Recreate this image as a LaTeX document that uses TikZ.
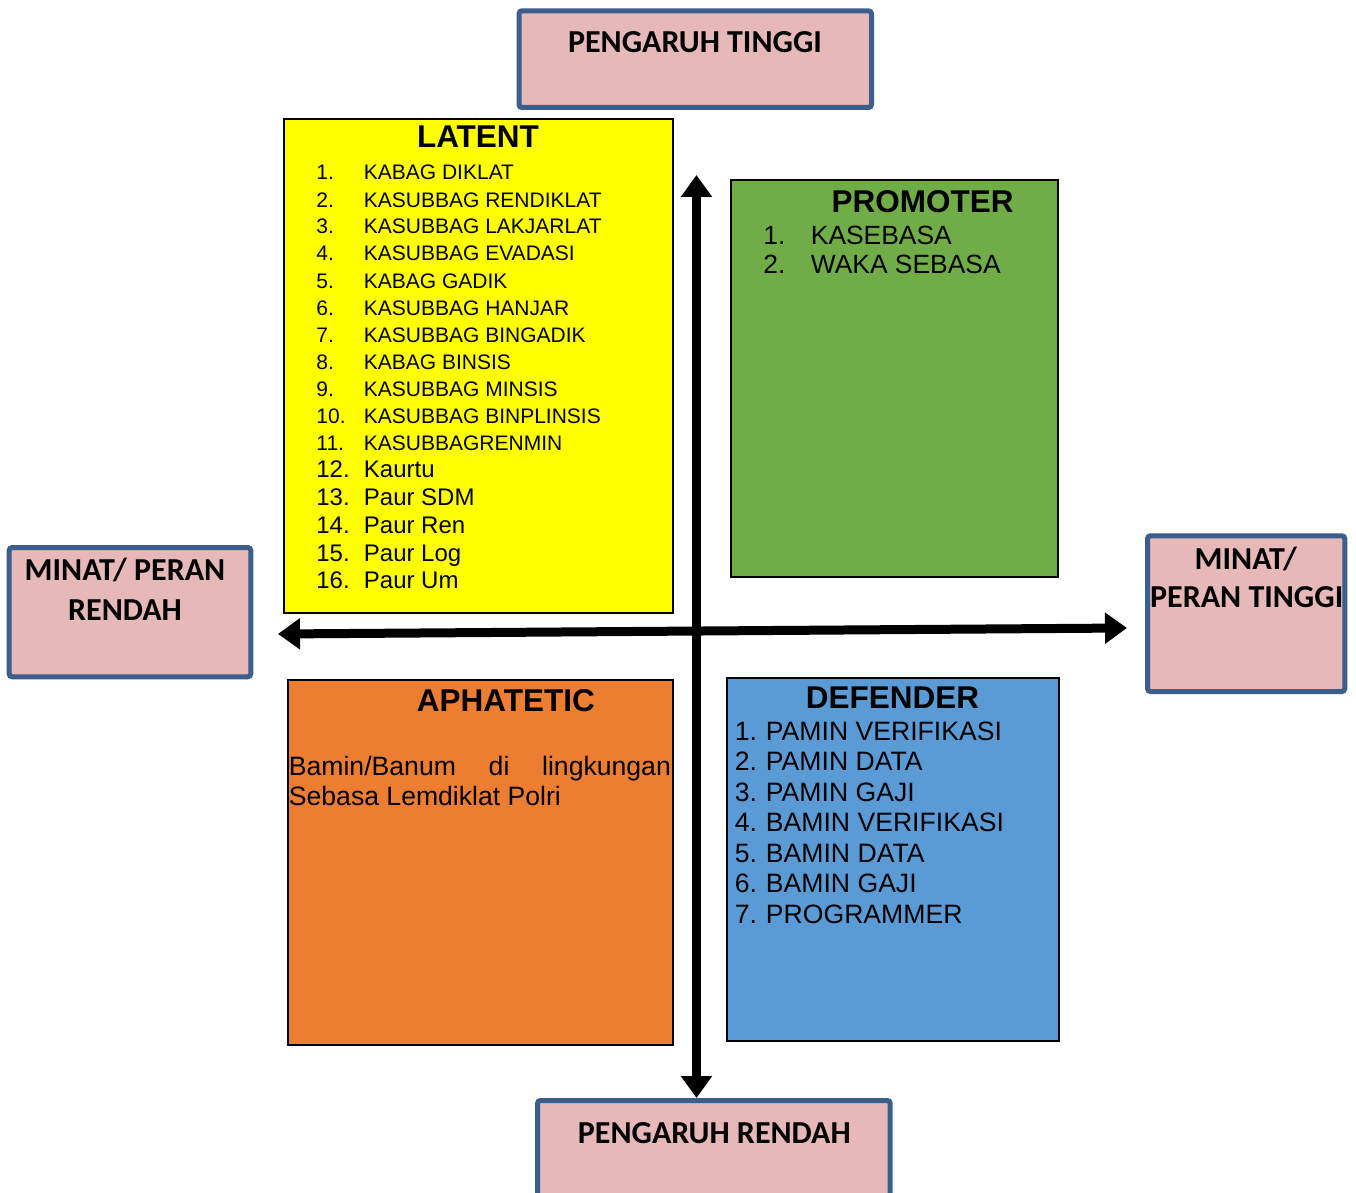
\documentclass[tikz,border=0pt]{standalone}
\usepackage{fontspec}
\setmainfont{Liberation Sans}
\newfontfamily\calib{Carlito}
\usetikzlibrary{arrows.meta}

\definecolor{pinkfill}{HTML}{E6B9B8}
\definecolor{pinkline}{HTML}{3B5E8C}
\definecolor{latentfill}{HTML}{FFFF00}
\definecolor{promfill}{HTML}{70AD47}
\definecolor{aphfill}{HTML}{ED7D31}
\definecolor{deffill}{HTML}{5B9BD5}

\newcommand{\fsz}[1]{\fontsize{#1}{#1}\selectfont}

\tikzset{
  axisbox/.style={draw=pinkline, fill=pinkfill, line width=2.5pt, rounded corners=1.5pt,
    inner sep=0pt, outer sep=0pt},
  quadbox/.style={draw=black, line width=1pt, inner sep=0pt, outer sep=0pt},
  axislabel/.style={font=\calib\bfseries\fsz{16}, inner sep=0pt, anchor=base},
  quadtitle/.style={font=\bfseries\fsz{15.75}, inner sep=0pt, anchor=base},
  itemtxt/.style={inner sep=0pt, anchor=base west},
  axisline/.style={line width=4.5pt, {Triangle[length=11pt,width=15pt]}-{Triangle[length=11pt,width=15pt]}}
}

\begin{document}
\begin{tikzpicture}[x=0.5pt,y=-0.5pt]
\useasboundingbox (0,0) rectangle (1356,1193);
\clip (0,0) rectangle (1356,1193);

% axis end boxes
\node[axisbox, minimum width=176.25pt, minimum height=48.35pt] (boxTop) at (695.25,59.15) {};
\node[axisbox, minimum width=176.35pt, minimum height=54.75pt] (boxBottom) at (713.85,1155.25) {};
\node[axisbox, minimum width=120.8pt, minimum height=64.65pt] (boxLeft) at (130,612.15) {};
\node[axisbox, minimum width=98.65pt, minimum height=77.85pt] (boxRight) at (1246.15,613.65) {};

\node[axislabel] (txtTop) at (695,53) {PENGARUH TINGGI};
\node[axislabel] (txtBottom) at (714.3,1143.3) {PENGARUH RENDAH};
\node[axislabel] (txtLeftA) at (125,580.7) {MINAT/ PERAN};
\node[axislabel] (txtLeftB) at (125,620) {RENDAH};
\node[axislabel] (txtRightA) at (1245.8,569.3) {MINAT/};
\node[axislabel] (txtRightB) at (1246.7,607.3) {PERAN TINGGI};

% quadrants
\node[quadbox, fill=latentfill, minimum width=194.5pt, minimum height=247pt] (latent) at (478.5,366) {};
\node[quadbox, fill=promfill, minimum width=163.5pt, minimum height=198.5pt] (promoter) at (894.5,378.5) {};
\node[quadbox, fill=aphfill, minimum width=192.75pt, minimum height=182.5pt] (aphatetic) at (480.25,862.5) {};
\node[quadbox, fill=deffill, minimum width=165.75pt, minimum height=181.75pt] (defender) at (892.75,859.25) {};

% LATENT
\node[quadtitle] (latentTitle) at (478,148) {LATENT};
\foreach \n/\t/\b in {1/KABAG DIKLAT/179.5, 2/KASUBBAG RENDIKLAT/207, 3/KASUBBAG LAKJARLAT/234,
    4/KASUBBAG EVADASI/261, 5/KABAG GADIK/288, 6/KASUBBAG HANJAR/315, 7/KASUBBAG BINGADIK/342,
    8/KABAG BINSIS/369, 9/KASUBBAG MINSIS/396, 10/KASUBBAG BINPLINSIS/423, 11/KASUBBAGRENMIN/450}{
  \node[itemtxt, font=\fsz{10.5}] (latNum\n) at (316,\b) {\n.};
  \node[itemtxt, font=\fsz{10.5}] (latTxt\n) at (363.5,\b) {\t};
}
\foreach \n/\t/\b in {12/Kaurtu/477, 13/Paur SDM/505, 14/Paur Ren/533, 15/Paur Log/561, 16/Paur Um/588}{
  \node[itemtxt, font=\fsz{12}] (latNum\n) at (316,\b) {\n.};
  \node[itemtxt, font=\fsz{12}] (latTxt\n) at (363.5,\b) {\t};
}

% PROMOTER
\node[quadtitle] (promTitle) at (922.5,212.7) {PROMOTER};
\foreach \n/\t/\b in {1/KASEBASA/244, 2/WAKA SEBASA/273}{
  \node[itemtxt, font=\fsz{13.2}] (promNum\n) at (763,\b) {\n.};
  \node[itemtxt, font=\fsz{13.2}] (promTxt\n) at (810.5,\b) {\t};
}

% APHATETIC
\node[quadtitle] (aphTitle) at (505.8,711.7) {APHATETIC};
\node[itemtxt, font=\fsz{13.3}] (aphLineA) at (288.5,775) {\makebox[191pt][s]{Bamin/Banum di lingkungan}};
\node[itemtxt, font=\fsz{13.3}] (aphLineB) at (288.5,805) {Sebasa Lemdiklat Polri};

% DEFENDER
\node[quadtitle] (defTitle) at (892.5,708.3) {DEFENDER};
\foreach \n/\t/\b in {1/PAMIN VERIFIKASI/740, 2/PAMIN DATA/770.5, 3/PAMIN GAJI/801,
    4/BAMIN VERIFIKASI/831.6, 5/BAMIN DATA/862.2, 6/BAMIN GAJI/892.7, 7/PROGRAMMER/923.3}{
  \node[itemtxt, font=\fsz{13.3}] (defItem\n) at (734.5,\b) {\n.\kern-0.5pt{} \t};
}

% axes
\coordinate (axLeft) at (278,634);
\coordinate (axRight) at (1127,628);
\coordinate (axUp) at (696.5,175);
\coordinate (axDown) at (696.5,1098);
\draw[axisline] (axUp) -- (axDown);
\draw[axisline] (axLeft) -- (axRight);
\end{tikzpicture}
\end{document}
